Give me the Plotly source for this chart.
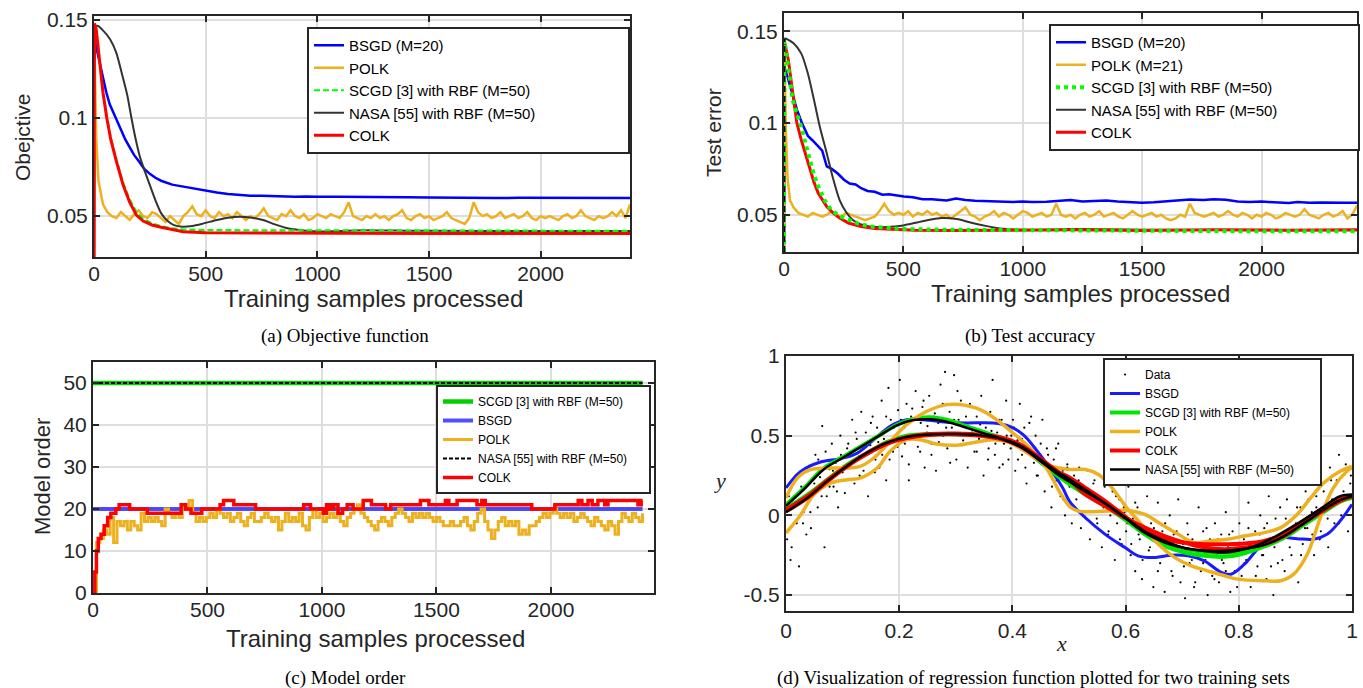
import plotly.graph_objects as go

W, H = 1363, 688

# ---------------- (a) Objective ----------------
a_bsgd_x = [0, 3, 10, 25, 40, 55, 70, 85, 100, 120,
            140, 160, 180, 200, 225, 250, 275, 300, 325, 350,
            375, 400, 425, 450, 475, 500, 550, 600, 650, 700,
            750, 800, 850, 900, 950, 1000, 1100, 1200, 1300, 1400,
            1500, 1600, 1700, 1800, 1900, 2000, 2100, 2200, 2300, 2400]
a_bsgd_y = [0.029, 0.140, 0.136, 0.128, 0.120, 0.113, 0.107, 0.103, 0.099, 0.094,
            0.089, 0.085, 0.081, 0.078, 0.074, 0.0715, 0.0695, 0.068, 0.067, 0.066,
            0.0655, 0.065, 0.0642, 0.0638, 0.0632, 0.0628, 0.062, 0.0612, 0.0608, 0.0603,
            0.0603, 0.0601, 0.0600, 0.0599, 0.0600, 0.0598, 0.0599, 0.0597, 0.0598, 0.0596,
            0.0595, 0.0593, 0.0594, 0.0592, 0.0593, 0.0593, 0.0594, 0.0592, 0.0593, 0.0592]

a_polk_head_x = [0, 3, 10]
a_polk_head_y = [0.029, 0.13, 0.09]
a_polk_tail_y = [0.068, 0.056, 0.052, 0.050, 0.049, 0.052, 0.050, 0.048, 0.051, 0.053,
                 0.050, 0.049, 0.052, 0.051, 0.049, 0.047, 0.050, 0.048, 0.046, 0.050,
                 0.052, 0.055, 0.051, 0.050, 0.053, 0.050, 0.049, 0.052, 0.050, 0.051,
                 0.049, 0.052, 0.050, 0.048, 0.050, 0.049, 0.051, 0.054, 0.050, 0.049,
                 0.048, 0.051, 0.050, 0.053, 0.050, 0.049, 0.051, 0.048, 0.049, 0.051,
                 0.050, 0.049, 0.051, 0.050, 0.049, 0.052, 0.057, 0.050, 0.049, 0.048,
                 0.050, 0.049, 0.051, 0.049, 0.050, 0.048, 0.050, 0.051, 0.053, 0.049,
                 0.048, 0.050, 0.051, 0.049, 0.050, 0.048, 0.049, 0.050, 0.052, 0.049,
                 0.048, 0.047, 0.046, 0.049, 0.057, 0.052, 0.050, 0.051, 0.049, 0.050,
                 0.052, 0.049, 0.050, 0.051, 0.049, 0.050, 0.052, 0.049, 0.048, 0.050,
                 0.049, 0.050, 0.049, 0.048, 0.050, 0.051, 0.049, 0.050, 0.053, 0.050,
                 0.049, 0.048, 0.050, 0.049, 0.050, 0.052, 0.050, 0.053, 0.049, 0.056]

a_fast_x = [0, 2, 10, 25, 40, 57, 75, 100, 130, 160,
            190, 220, 260, 300, 350, 400, 500, 700, 1000, 1500,
            2000, 2400]
a_scgd_y = [0.029, 0.148, 0.145, 0.129, 0.114, 0.101, 0.090, 0.079, 0.067, 0.0585,
            0.052, 0.0487, 0.0463, 0.0449, 0.0438, 0.0432, 0.0429, 0.0428, 0.0427, 0.0426,
            0.0425, 0.0425]
a_colk_y = [0.029, 0.148, 0.145, 0.128, 0.113, 0.100, 0.089, 0.078, 0.066, 0.057,
            0.0505, 0.0475, 0.0455, 0.0443, 0.0430, 0.0420, 0.0415, 0.0414, 0.0413, 0.0412,
            0.0412, 0.0412]

a_nasa_x = [0, 15, 40, 72, 100, 129, 150, 167, 185, 206,
            230, 253, 277, 301, 330, 358, 396, 440, 491, 550,
            600, 653, 700, 757, 810, 871, 948, 1024, 1100, 1200,
            1300, 1400, 1500, 2000, 2400]
a_nasa_y = [0.146, 0.1468, 0.1445, 0.140, 0.133, 0.1206, 0.111, 0.1003, 0.090, 0.080,
            0.072, 0.0649, 0.0575, 0.0514, 0.0475, 0.0454, 0.0446, 0.0450, 0.0463, 0.0480,
            0.0492, 0.0497, 0.0493, 0.0480, 0.0458, 0.0437, 0.0426, 0.0422, 0.0424, 0.0428,
            0.0427, 0.0426, 0.0425, 0.0424, 0.0424]

# ---------------- (b) Test error ----------------
b_bsgd_x = [0, 3, 15, 30, 54, 75, 100, 120, 143, 160,
            179, 200, 225, 251, 275, 300, 323, 350, 380, 412,
            440, 470, 502, 540, 580, 620, 681, 720, 760, 800,
            850, 900, 960, 1000, 1039, 1100, 1150, 1200, 1250, 1300,
            1350, 1397, 1450, 1500, 1550, 1600, 1650, 1700, 1756, 1800,
            1850, 1900, 1950, 2000, 2050, 2115, 2150, 2200, 2250, 2300,
            2350, 2400]
b_bsgd_y = [0.0297, 0.130, 0.125, 0.118, 0.1073, 0.100, 0.093, 0.0905, 0.0873, 0.085,
            0.0764, 0.075, 0.0725, 0.0691, 0.067, 0.0665, 0.0645, 0.063, 0.0625, 0.0609,
            0.0612, 0.0605, 0.0600, 0.0595, 0.0585, 0.0585, 0.0578, 0.0588, 0.0580, 0.0577,
            0.0575, 0.0572, 0.0570, 0.0573, 0.0569, 0.0571, 0.0574, 0.0580, 0.0572, 0.0575,
            0.0578, 0.0573, 0.0568, 0.0566, 0.0568, 0.0572, 0.0575, 0.0583, 0.0580, 0.0585,
            0.0582, 0.0573, 0.0570, 0.0572, 0.0568, 0.0564, 0.0570, 0.0565, 0.0567, 0.0568,
            0.0566, 0.0565]

b_polk_head_x = [0, 2, 8, 15, 25]
b_polk_head_y = [0.0297, 0.140, 0.095, 0.070, 0.058]
b_polk_tail_y = [0.054, 0.051, 0.050, 0.049, 0.051, 0.050, 0.049, 0.050, 0.052, 0.050,
                 0.049, 0.051, 0.050, 0.049, 0.048, 0.047, 0.048, 0.049, 0.052, 0.056,
                 0.052, 0.050, 0.051, 0.050, 0.052, 0.049, 0.051, 0.050, 0.052, 0.050,
                 0.051, 0.049, 0.050, 0.048, 0.050, 0.052, 0.054, 0.050, 0.049, 0.047,
                 0.049, 0.050, 0.052, 0.049, 0.051, 0.050, 0.048, 0.050, 0.052, 0.051,
                 0.049, 0.050, 0.051, 0.049, 0.050, 0.056, 0.050, 0.049, 0.050, 0.048,
                 0.050, 0.051, 0.049, 0.050, 0.052, 0.049, 0.050, 0.051, 0.049, 0.048,
                 0.050, 0.052, 0.050, 0.049, 0.050, 0.051, 0.049, 0.050, 0.048, 0.047,
                 0.048, 0.050, 0.049, 0.056, 0.051, 0.050, 0.049, 0.050, 0.051, 0.049,
                 0.050, 0.052, 0.050, 0.049, 0.051, 0.050, 0.048, 0.050, 0.049, 0.051,
                 0.050, 0.048, 0.049, 0.051, 0.050, 0.049, 0.050, 0.053, 0.050, 0.049,
                 0.048, 0.050, 0.051, 0.049, 0.050, 0.052, 0.048, 0.050, 0.055]

b_scgd_x = [0, 1, 10, 20, 36, 54, 72, 90, 108, 125,
            143, 170, 197, 230, 269, 310, 358, 420, 500, 700,
            1000, 1500, 2000, 2400]
b_scgd_y = [0.0297, 0.145, 0.138, 0.128, 0.1127, 0.105, 0.098, 0.089, 0.080, 0.072,
            0.0655, 0.058, 0.0527, 0.0495, 0.0473, 0.0452, 0.0436, 0.0428, 0.0422, 0.0418,
            0.0415, 0.0412, 0.0410, 0.0410]

b_colk_x = [1, 8, 18, 35, 54, 72, 90, 107, 125,
            143, 160, 179, 205, 233, 270, 323, 380, 450, 550,
            700, 1000, 1200, 1500, 1800, 2100, 2400]
b_colk_y = [0.145, 0.140, 0.1345, 0.118, 0.100, 0.091, 0.083, 0.0764, 0.068,
            0.0618, 0.058, 0.0545, 0.051, 0.0482, 0.0455, 0.0436, 0.0425, 0.042, 0.0416,
            0.0414, 0.0415, 0.0418, 0.0414, 0.0418, 0.0416, 0.0418]

b_nasa_x = [0, 1, 9, 40, 72, 100, 125, 150, 179, 205,
            233, 260, 287, 320, 358, 430, 500, 580, 663, 730,
            789, 850, 896, 950, 1004, 1100, 1200, 1300, 1500, 2000,
            2400]
b_nasa_y = [0.0297, 0.146, 0.146, 0.1435, 0.138, 0.127, 0.113, 0.098, 0.0836, 0.070,
            0.058, 0.0515, 0.0473, 0.0448, 0.0436, 0.0433, 0.0442, 0.0465, 0.0482, 0.0475,
            0.0455, 0.0438, 0.0427, 0.0421, 0.0418, 0.0418, 0.0423, 0.0421, 0.0418, 0.0416,
            0.0416]

# ---------------- (c) Model order ----------------
c_const_x = [0, 2400]
c_scgd_order = [50, 50]
c_nasa_order = [50, 50]
c_bsgd_order = [20, 20]
c_polk_step = 15
c_polk_order = [0, 12, 13, 15, 14, 18, 12, 17, 16, 17,
                15, 17, 16, 15, 19, 17, 18, 17, 18, 17,
                16, 20, 19, 18, 19, 18, 21, 20, 22, 19,
                17, 18, 17, 18, 19, 18, 20, 19, 18, 19,
                17, 18, 19, 17, 16, 18, 19, 17, 17, 18,
                19, 18, 17, 18, 15, 17, 19, 17, 18, 17,
                19, 16, 15, 18, 20, 18, 19, 17, 18, 19,
                18, 19, 17, 16, 18, 19, 20, 21, 19, 18,
                17, 16, 15, 17, 18, 17, 16, 18, 19, 20,
                19, 18, 17, 19, 18, 19, 18, 19, 18, 17,
                18, 17, 16, 16, 17, 16, 16, 17, 18, 16,
                15, 17, 19, 20, 17, 15, 13, 15, 17, 18,
                16, 17, 16, 17, 14, 15, 14, 16, 16, 17,
                18, 19, 18, 19, 20, 19, 18, 19, 18, 19,
                17, 18, 19, 18, 17, 16, 18, 17, 16, 15,
                17, 16, 14, 17, 19, 18, 17, 19, 18, 17,
                19]
c_colk_x = [0, 8, 15, 23, 35, 49, 64, 78, 100, 114,
            160, 237, 385, 405, 428, 475, 555, 570, 615, 710,
            920, 950, 1006, 1020, 1035, 1050, 1070, 1090, 1110, 1136,
            1180, 1216, 1278, 1300, 1430, 1467, 1539, 1554, 1590, 1677,
            1698, 1713, 1916, 2017, 2119, 2135, 2162, 2180, 2205, 2235,
            2249, 2380, 2394, 2400]
c_colk_order = [0, 5, 10, 13, 14, 16, 18, 19, 20, 21,
                20, 19, 21, 20, 19, 20, 21, 22, 21, 20,
                21, 20, 19, 21, 20, 21, 19, 20, 21, 20,
                22, 21, 20, 21, 22, 21, 22, 21, 22, 21,
                22, 21, 20, 21, 22, 21, 22, 21, 22, 21,
                22, 21, 22, 22]

# ---------------- (d) Regression ----------------
d_data_x1 = [0.002, 0.005, 0.008, 0.012, 0.015, 0.019, 0.023, 0.027, 0.031, 0.036,
             0.041, 0.044, 0.048, 0.052, 0.056, 0.060, 0.064, 0.068, 0.072, 0.077,
             0.081, 0.084, 0.088, 0.092, 0.096, 0.100, 0.104, 0.108, 0.112, 0.117,
             0.121, 0.125, 0.129, 0.133, 0.137, 0.141, 0.145, 0.149, 0.153, 0.158,
             0.161, 0.165, 0.169, 0.173, 0.177, 0.181, 0.185, 0.189, 0.193, 0.198,
             0.201, 0.205, 0.209, 0.213, 0.217, 0.221, 0.225, 0.229, 0.233, 0.238,
             0.241, 0.245, 0.249, 0.253, 0.257, 0.261, 0.265, 0.269, 0.273, 0.278,
             0.281, 0.285, 0.289, 0.293, 0.297, 0.301, 0.305, 0.309, 0.313, 0.318,
             0.321, 0.325, 0.329, 0.333, 0.337, 0.341, 0.345, 0.349, 0.353, 0.358,
             0.361, 0.365, 0.369, 0.373, 0.377, 0.381, 0.385, 0.389, 0.393, 0.398,
             0.401, 0.405, 0.409, 0.413, 0.417, 0.421, 0.425, 0.429, 0.433, 0.438,
             0.441, 0.445, 0.449, 0.453, 0.457, 0.461, 0.465, 0.469, 0.473, 0.478,
             0.481, 0.485, 0.489, 0.493, 0.497, 0.501, 0.505, 0.509, 0.513, 0.518,
             0.521, 0.525, 0.529, 0.533, 0.537, 0.541, 0.545, 0.549, 0.553, 0.558,
             0.561, 0.565, 0.569, 0.573, 0.577, 0.581, 0.585, 0.589, 0.593, 0.598,
             0.601, 0.605, 0.609, 0.613, 0.617, 0.621, 0.625, 0.629, 0.633, 0.638,
             0.641, 0.645, 0.649, 0.653, 0.657, 0.661, 0.665, 0.669, 0.673, 0.678,
             0.681, 0.685, 0.689, 0.693, 0.697, 0.701, 0.705, 0.709, 0.713, 0.718,
             0.721, 0.725, 0.729, 0.733, 0.737, 0.741, 0.745, 0.749, 0.753, 0.758,
             0.761, 0.765, 0.769, 0.773, 0.777, 0.781, 0.785, 0.789, 0.793, 0.798,
             0.801, 0.805, 0.809, 0.813, 0.817, 0.821, 0.825, 0.829, 0.833, 0.838,
             0.841, 0.845, 0.849, 0.853, 0.857, 0.861, 0.865, 0.869, 0.873, 0.878,
             0.881, 0.885, 0.889, 0.893, 0.897, 0.901, 0.905, 0.909, 0.913, 0.918,
             0.921, 0.925, 0.929, 0.933, 0.937, 0.941, 0.945, 0.949, 0.953, 0.958,
             0.961, 0.965, 0.969, 0.973, 0.977, 0.981, 0.985, 0.989, 0.993, 0.998]
d_data_y1 = [-0.15, 0.12, -0.28, 0.05, 0.22, -0.05, -0.32, 0.18, 0.02, -0.12,
             0.31, -0.08, 0.15, 0.38, 0.05, 0.24, 0.56, -0.20, 0.12, 0.29,
             0.45, 0.18, 0.33, 0.05, 0.50, 0.27, 0.14, 0.42, 0.31, 0.60,
             0.20, 0.48, 0.37, 0.65, 0.28, 0.52, 0.12, 0.44, 0.62, 0.35,
             0.55, 0.30, 0.72, 0.48, 0.22, 0.80, 0.60, 0.40, 0.50, 0.66,
             0.85, 0.37, 0.55, 0.70, 0.22, 0.62, 0.48, 0.78, 0.43, 0.58,
             0.68, 0.30, 0.52, 0.75, 0.45, 0.62, 0.28, 0.58, 0.82, 0.50,
             0.90, 0.42, 0.65, 0.55, 0.88, 0.35, 0.60, 0.72, 0.47, 0.62,
             0.30, 0.70, 0.52, 0.40, 0.62, 0.48, 0.75, 0.25, 0.55, 0.42,
             0.65, 0.85, 0.38, 0.52, 0.30, 0.60, 0.45, 0.72, 0.35, 0.50,
             0.60, 0.28, 0.47, 0.70, 0.38, 0.55, 0.20, 0.42, 0.62, 0.33,
             0.50, 0.25, 0.38, 0.60, 0.15, 0.42, 0.30, 0.05, 0.35, 0.22,
             0.45, 0.12, 0.28, 0.00, 0.32, 0.18, -0.05, 0.25, 0.10, 0.30,
             -0.08, 0.15, 0.02, 0.28, -0.15, 0.10, 0.22, -0.02, 0.12, -0.20,
             0.05, 0.25, -0.12, 0.00, 0.15, -0.28, -0.05, 0.10, -0.18, 0.02,
             -0.10, 0.18, -0.25, -0.02, -0.35, 0.05, -0.15, -0.40, -0.08, 0.12,
             -0.22, -0.05, -0.45, -0.15, 0.08, -0.30, -0.10, -0.48, -0.20, 0.00,
             -0.35, -0.12, -0.25, 0.10, -0.42, -0.18, -0.52, -0.05, -0.30, -0.15,
             -0.45, -0.22, 0.05, -0.35, -0.10, -0.28, -0.50, -0.15, -0.38, -0.05,
             -0.25, -0.42, -0.12, -0.30, 0.02, -0.20, -0.48, -0.10, -0.35, -0.22,
             -0.05, -0.38, -0.15, -0.28, 0.08, -0.45, -0.20, -0.10, -0.32, 0.00,
             -0.25, -0.08, -0.40, 0.12, -0.18, -0.50, -0.02, -0.30, 0.05, -0.15,
             -0.35, 0.10, -0.10, -0.25, 0.20, -0.05, -0.42, 0.05, -0.18, 0.15,
             -0.08, 0.28, 0.02, -0.25, 0.12, 0.35, -0.10, 0.20, 0.05, -0.20,
             0.30, 0.10, -0.05, 0.22, 0.38, 0.00, 0.15, 0.32, -0.10, 0.25]
d_data_x2 = [0.003, 0.010, 0.017, 0.023, 0.030, 0.037, 0.043, 0.050, 0.057, 0.063,
             0.070, 0.077, 0.083, 0.090, 0.097, 0.103, 0.110, 0.117, 0.123, 0.130,
             0.137, 0.143, 0.150, 0.157, 0.163, 0.170, 0.177, 0.183, 0.190, 0.197,
             0.203, 0.210, 0.217, 0.223, 0.230, 0.237, 0.243, 0.250, 0.257, 0.263,
             0.270, 0.277, 0.283, 0.290, 0.297, 0.303, 0.310, 0.317, 0.323, 0.330,
             0.337, 0.343, 0.350, 0.357, 0.363, 0.370, 0.377, 0.383, 0.390, 0.397,
             0.403, 0.410, 0.417, 0.423, 0.430, 0.437, 0.443, 0.450, 0.457, 0.463,
             0.470, 0.477, 0.483, 0.490, 0.497, 0.503, 0.510, 0.517, 0.523, 0.530,
             0.537, 0.543, 0.550, 0.557, 0.563, 0.570, 0.577, 0.583, 0.590, 0.597,
             0.603, 0.610, 0.617, 0.623, 0.630, 0.637, 0.643, 0.650, 0.657, 0.663,
             0.670, 0.677, 0.683, 0.690, 0.697, 0.703, 0.710, 0.717, 0.723, 0.730,
             0.737, 0.743, 0.750, 0.757, 0.763, 0.770, 0.777, 0.783, 0.790, 0.797,
             0.803, 0.810, 0.817, 0.823, 0.830, 0.837, 0.843, 0.850, 0.857, 0.863,
             0.870, 0.877, 0.883, 0.890, 0.897, 0.903, 0.910, 0.917, 0.923, 0.930,
             0.937, 0.943, 0.950, 0.957, 0.963, 0.970, 0.977, 0.983, 0.990, 0.997]
d_data_y2 = [0.08, -0.20, 0.25, 0.10, -0.05, 0.30, 0.02, 0.20, 0.35, 0.12,
             0.40, 0.18, 0.28, 0.15, 0.38, 0.22, 0.45, 0.30, 0.52, 0.25,
             0.42, 0.33, 0.58, 0.27, 0.46, 0.38, 0.62, 0.35, 0.55, 0.43,
             0.60, 0.45, 0.32, 0.67, 0.50, 0.40, 0.72, 0.56, 0.38, 0.64,
             0.46, 0.70, 0.55, 0.33, 0.60, 0.78, 0.44, 0.58, 0.50, 0.68,
             0.40, 0.57, 0.65, 0.35, 0.53, 0.45, 0.60, 0.32, 0.50, 0.42,
             0.55, 0.35, 0.48, 0.30, 0.58, 0.40, 0.25, 0.45, 0.32, 0.38,
             0.18, 0.42, 0.27, 0.10, 0.30, 0.20, 0.05, 0.22, 0.15, -0.02,
             0.12, 0.20, -0.05, 0.08, 0.18, -0.10, 0.03, 0.12, -0.15, 0.05,
             -0.05, -0.18, 0.08, -0.12, -0.28, 0.00, -0.20, -0.08, -0.35, -0.15,
             -0.05, -0.25, -0.38, -0.10, -0.20, -0.32, -0.12, -0.28, -0.42, -0.18,
             -0.30, -0.08, -0.22, -0.40, -0.15, -0.28, -0.35, -0.12, -0.25, -0.45,
             -0.18, -0.30, -0.08, -0.22, -0.38, -0.12, -0.25, -0.05, -0.32, -0.20,
             -0.15, -0.28, -0.02, -0.20, -0.10, 0.05, -0.25, -0.08, 0.10, -0.12,
             0.05, -0.15, 0.15, -0.02, 0.22, 0.08, -0.05, 0.28, 0.12, 0.20]

d_bsgd_x = [0, 0.026, 0.061, 0.096, 0.126, 0.155, 0.184, 0.213, 0.243, 0.284,
            0.319, 0.366, 0.395, 0.419, 0.442, 0.466, 0.489, 0.501, 0.529, 0.564,
            0.599, 0.622, 0.646, 0.681, 0.71, 0.739, 0.769, 0.786, 0.81, 0.839,
            0.868, 0.903, 0.932, 0.956, 0.979, 1.0]
d_bsgd_y = [0.172, 0.276, 0.335, 0.356, 0.391, 0.475, 0.559, 0.6, 0.6, 0.584,
            0.58, 0.58, 0.559, 0.506, 0.412, 0.297, 0.172, 0.088, -0.015, -0.119,
            -0.202, -0.254, -0.265, -0.25, -0.254, -0.285, -0.358, -0.369, -0.306, -0.192,
            -0.14, -0.146, -0.15, -0.119, -0.035, 0.069]

d_polk1_x = [0, 0.02, 0.043, 0.073, 0.108, 0.131, 0.155, 0.184, 0.213, 0.249,
             0.284, 0.307, 0.343, 0.372, 0.401, 0.431, 0.46, 0.483, 0.501, 0.517,
             0.54, 0.57, 0.602, 0.634, 0.663, 0.693, 0.722, 0.751, 0.78, 0.81,
             0.845, 0.874, 0.903, 0.927, 0.95, 0.979, 1.0]
d_polk1_y = [0.109, 0.234, 0.287, 0.297, 0.297, 0.307, 0.36, 0.464, 0.569, 0.653,
             0.695, 0.695, 0.663, 0.6, 0.517, 0.423, 0.297, 0.15, 0.056, 0.027,
             0.023, 0.027, 0.031, 0.006, -0.056, -0.119, -0.171, -0.16, -0.15, -0.129,
             -0.108, -0.077, 0.006, 0.11, 0.204, 0.277, 0.308]
d_polk2_x = [0, 0.026, 0.049, 0.079, 0.108, 0.131, 0.161, 0.184, 0.213, 0.237,
             0.266, 0.301, 0.337, 0.366, 0.389, 0.413, 0.436, 0.46, 0.483, 0.501,
             0.529, 0.552, 0.576, 0.602, 0.628, 0.658, 0.687, 0.716, 0.745, 0.775,
             0.798, 0.845, 0.874, 0.897, 0.921, 0.944, 0.967, 0.991, 1.0]
d_polk2_y = [-0.111, 0.004, 0.13, 0.203, 0.224, 0.234, 0.297, 0.402, 0.475, 0.475,
             0.448, 0.44, 0.46, 0.475, 0.464, 0.423, 0.37, 0.318, 0.297, 0.2875,
             0.2875, 0.256, 0.173, 0.048, -0.056, -0.181, -0.265, -0.317, -0.348, -0.379,
             -0.4, -0.41, -0.41, -0.369, -0.244, -0.015, 0.173, 0.277, 0.298]

d_scgd1_x = [0, 0.032, 0.067, 0.102, 0.137, 0.167, 0.196, 0.225, 0.255, 0.284,
             0.319, 0.354, 0.389, 0.419, 0.448, 0.477, 0.5, 0.529, 0.564, 0.602,
             0.634, 0.669, 0.704, 0.739, 0.775, 0.804, 0.839, 0.874, 0.909, 0.944,
             0.979, 1.0]
d_scgd1_y = [0.067, 0.172, 0.297, 0.37, 0.444, 0.506, 0.569, 0.605, 0.615, 0.6,
             0.559, 0.517, 0.475, 0.423, 0.339, 0.255, 0.198, 0.131, 0.058, -0.035,
             -0.119, -0.192, -0.233, -0.254, -0.26, -0.244, -0.202, -0.14, -0.056, 0.027,
             0.09, 0.11]
d_nasa1_x = [0, 0.032, 0.067, 0.102, 0.137, 0.167, 0.196, 0.225, 0.255, 0.284,
             0.319, 0.354, 0.389, 0.419, 0.448, 0.477, 0.494, 0.529, 0.564, 0.602,
             0.634, 0.669, 0.704, 0.739, 0.775, 0.81, 0.83, 0.866, 0.9, 0.944,
             0.979, 1.0]
d_nasa1_y = [0.06, 0.165, 0.29, 0.365, 0.44, 0.505, 0.565, 0.598, 0.603, 0.588,
             0.55, 0.51, 0.47, 0.42, 0.345, 0.265, 0.225, 0.15, 0.075, -0.02,
             -0.1, -0.16, -0.205, -0.223, -0.233, -0.2125, -0.19, -0.13, -0.06, 0.04,
             0.12, 0.131]

d_fast_x = [0, 0.038, 0.073, 0.108, 0.143, 0.178, 0.213, 0.255, 0.301, 0.343,
            0.378, 0.413, 0.448, 0.48, 0.5, 0.529, 0.564, 0.602, 0.634, 0.669,
            0.704, 0.739, 0.775, 0.81, 0.845, 0.88, 0.915, 0.95, 0.979, 1.0]
d_scgd2_y = [0.042, 0.13, 0.224, 0.318, 0.391, 0.46, 0.5, 0.51, 0.51, 0.506,
             0.485, 0.433, 0.339, 0.255, 0.21, 0.14, 0.065, -0.025, -0.105, -0.17,
             -0.21, -0.23, -0.235, -0.225, -0.195, -0.14, -0.06, 0.02, 0.085, 0.115]
d_colk1_y = [0.025, 0.109, 0.213, 0.308, 0.391, 0.454, 0.49, 0.51, 0.513, 0.506,
             0.49, 0.446, 0.36, 0.276, 0.24, 0.173, 0.09, -0.015, -0.098, -0.15,
             -0.171, -0.181, -0.181, -0.177, -0.16, -0.119, -0.035, 0.048, 0.1, 0.121]
d_colk2_y = [0.035, 0.12, 0.22, 0.31, 0.385, 0.448, 0.485, 0.505, 0.508, 0.5,
             0.48, 0.435, 0.35, 0.27, 0.225, 0.131, 0.058, -0.02, -0.077, -0.13,
             -0.171, -0.202, -0.2125, -0.202, -0.181, -0.129, -0.046, 0.03, 0.09, 0.121]
d_nasa2_y = [0.02, 0.11, 0.215, 0.31, 0.392, 0.455, 0.492, 0.508, 0.51, 0.502,
             0.483, 0.44, 0.355, 0.272, 0.23, 0.16, 0.075, -0.025, -0.11, -0.17,
             -0.205, -0.22, -0.222, -0.21, -0.185, -0.13, -0.05, 0.035, 0.095, 0.12]

# ---------------- labels ----------------
lbl_bsgd_m = "BSGD (M=20)"
lbl_polk = "POLK"
lbl_polk_m = "POLK (M=21)"
lbl_scgd = "SCGD [3] with RBF (M=50)"
lbl_nasa = "NASA [55] with RBF (M=50)"
lbl_colk = "COLK"
lbl_bsgd = "BSGD"
lbl_data = "Data"

BLUE = "#0000FF"
ORANGE = "#EDB120"
GREEN = "#00FF00"
RED = "#FF0000"
NASA_C = "#333333"
AX = "#262626"
SANS = "Liberation Sans, Arial, sans-serif"
SERIF = "Liberation Serif, Times New Roman, serif"
NB = "\u00a0"  # invisible padding so legend boxes span the reference width

a_polk_x = a_polk_head_x + [20 * (i + 1) for i in range(len(a_polk_tail_y))]
a_polk_y = a_polk_head_y + a_polk_tail_y
b_polk_x = b_polk_head_x + [40 + 20 * i for i in range(len(b_polk_tail_y))]
b_polk_y = b_polk_head_y + b_polk_tail_y
c_polk_x = [c_polk_step * i for i in range(len(c_polk_order))]
d_data_x = d_data_x1 + d_data_x2
d_data_y = d_data_y1 + d_data_y2

fig = go.Figure()


def L(x, y, name, color, width, xa, ya, leg, rank, dash=None, show=True,
      shape="linear", group=None, smoothing=None):
    line = dict(color=color, width=width)
    if dash:
        line["dash"] = dash
    if shape != "linear":
        line["shape"] = shape
    if smoothing is not None:
        line["smoothing"] = smoothing
    fig.add_trace(go.Scatter(x=x, y=y, mode="lines", name=name, line=line,
                             xaxis=xa, yaxis=ya, legend=leg, legendrank=rank,
                             showlegend=show, legendgroup=group or (leg + name),
                             hoverinfo="skip"))


# (a)
L(a_bsgd_x, a_bsgd_y, lbl_bsgd_m, BLUE, 2.5, "x", "y", "legend", 1)
L(a_polk_x, a_polk_y, lbl_polk, ORANGE, 2.5, "x", "y", "legend", 2)
L(a_nasa_x, a_nasa_y, lbl_nasa + NB * 21, NASA_C, 2, "x", "y", "legend", 4,
  shape="spline", smoothing=0.6)
L(a_fast_x, a_scgd_y, lbl_scgd, GREEN, 2.2, "x", "y", "legend", 3, dash="6px,3px")
L(a_fast_x, a_colk_y, lbl_colk, RED, 3, "x", "y", "legend", 5)

# (b)
L(b_bsgd_x, b_bsgd_y, lbl_bsgd_m, BLUE, 2.5, "x2", "y2", "legend2", 1)
L(b_polk_x, b_polk_y, lbl_polk_m, ORANGE, 2.5, "x2", "y2", "legend2", 2)
L(b_nasa_x[1:], b_nasa_y[1:], lbl_nasa + NB * 18, NASA_C, 2, "x2", "y2", "legend2", 4,
  shape="spline", smoothing=0.6, group="bN")
L(b_colk_x, b_colk_y, lbl_colk, RED, 3, "x2", "y2", "legend2", 5)
L(b_scgd_x, b_scgd_y, lbl_scgd, GREEN, 4, "x2", "y2", "legend2", 3, dash="dot")
L(b_nasa_x[:2], b_nasa_y[:2], lbl_nasa, "#000000", 2.5, "x2", "y2", "legend2", 4,
  dash="6px,4px", show=False, group="bN")

# (c)
L(c_const_x, c_scgd_order, lbl_scgd, "#00D000", 4.5, "x3", "y3", "legend3", 1)
L(c_const_x, c_nasa_order, lbl_nasa + NB * 5, "#000000", 2, "x3", "y3", "legend3", 4,
  dash="4px,2px")
L(c_const_x, c_bsgd_order, lbl_bsgd, "rgba(20,20,255,0.75)", 4, "x3", "y3", "legend3", 2)
L(c_polk_x, c_polk_order, lbl_polk, ORANGE, 3, "x3", "y3", "legend3", 3, shape="hv")
L(c_colk_x, c_colk_order, lbl_colk, RED, 3.5, "x3", "y3", "legend3", 5, shape="hv")

# (d)
fig.add_trace(go.Scatter(x=d_data_x, y=d_data_y, mode="markers", name=lbl_data,
                         marker=dict(color="#000000", size=2.2),
                         xaxis="x4", yaxis="y4", legend="legend4", legendrank=1,
                         hoverinfo="skip"))
L(d_bsgd_x, d_bsgd_y, lbl_bsgd, "#1a1aff", 3, "x4", "y4", "legend4", 2, shape="spline", group="dB")
L(d_scgd1_x, d_scgd1_y, lbl_scgd, "#00E600", 4, "x4", "y4", "legend4", 3, shape="spline", group="dS")
L(d_fast_x, d_scgd2_y, lbl_scgd, "#00E600", 4, "x4", "y4", "legend4", 3, shape="spline", group="dS", show=False)
L(d_polk1_x, d_polk1_y, lbl_polk, ORANGE, 3.5, "x4", "y4", "legend4", 4, shape="spline", group="dP")
L(d_polk2_x, d_polk2_y, lbl_polk, ORANGE, 3.5, "x4", "y4", "legend4", 4, shape="spline", group="dP", show=False)
L(d_fast_x, d_colk1_y, lbl_colk, RED, 4, "x4", "y4", "legend4", 5, shape="spline", group="dC")
L(d_fast_x, d_colk2_y, lbl_colk, RED, 4, "x4", "y4", "legend4", 5, shape="spline", group="dC", show=False)
L(d_nasa1_x, d_nasa1_y, lbl_nasa + NB * 6, "#000000", 2.5, "x4", "y4", "legend4", 6,
  shape="spline", group="dN")
L(d_fast_x, d_nasa2_y, lbl_nasa, "#000000", 2.5, "x4", "y4", "legend4", 6, shape="spline", group="dN", show=False)


def px_x(a, b):
    return [a / W, b / W]


def px_y(top, bottom):
    return [1 - bottom / H, 1 - top / H]


def axis(domain, rng, anchor, tickvals, ticktext, fs=21, standoff=0):
    return dict(domain=domain, range=rng, anchor=anchor, showline=True,
                linecolor=AX, linewidth=2, mirror="ticks", ticks="inside",
                ticklen=6, tickwidth=1.5, tickcolor=AX, showgrid=True,
                gridcolor="#dedede", gridwidth=2, zeroline=False,
                tickvals=tickvals, ticktext=ticktext, ticklabelstandoff=standoff,
                tickfont=dict(family=SANS, size=fs, color=AX))


xt = [0, 500, 1000, 1500, 2000]
xtt = ["0", "500", "1000", "1500", "2000"]
yt_ab = [0.05, 0.1, 0.15]
ytt_ab = ["0.05", "0.1", "0.15"]


def legend(xp, yp, fs):
    return dict(x=xp / W, y=1 - yp / H, xanchor="left", yanchor="top",
                bgcolor="white", bordercolor=AX, borderwidth=2,
                font=dict(family=SANS, size=fs, color="#000000"),
                tracegroupgap=0, itemwidth=30)


anns = []


def ann(text, xp, yp, size, family=SANS, angle=0, color=AX):
    anns.append(dict(text=text, x=xp / W, y=1 - yp / H, xref="paper", yref="paper",
                     showarrow=False, textangle=angle, xanchor="center", yanchor="middle",
                     font=dict(family=family, size=size, color=color)))


ann("Training samples processed", 373, 298, 24)
ann("Obejctive", 22, 137, 21, angle=-90)
ann("Training samples processed", 1080, 293, 24)
ann("Test error", 713, 133, 21, angle=-90)
ann("Training samples processed", 375, 638, 24)
ann("Model order", 42, 477, 22, angle=-90)
ann("<i>x</i>", 1061, 643, 22, family=SERIF)
ann("<i>y</i>", 720, 480, 22, family=SERIF)
ann("(a) Objective function", 345, 336, 19, family=SERIF, color="#000000")
ann("(b) Test accuracy", 1030, 336, 19, family=SERIF, color="#000000")
ann("(c) Model order", 345, 678, 19, family=SERIF, color="#000000")
ann("(d) Visualization of regression function plotted for two training sets", 1033, 678, 19,
    family=SERIF, color="#000000")

fig.update_layout(
    width=W, height=H, margin=dict(l=0, r=0, t=0, b=0, autoexpand=False),
    paper_bgcolor="white", plot_bgcolor="white",
    xaxis=axis(px_x(94, 630), [0, 2400], "y", xt, xtt, standoff=-3),
    yaxis=axis(px_y(16, 257), [0.0292, 0.1518], "x", yt_ab, ytt_ab),
    xaxis2=axis(px_x(784, 1357), [0, 2400], "y2", xt, xtt, standoff=-3),
    yaxis2=axis(px_y(13, 252), [0.0297, 0.16], "x2", yt_ab, ytt_ab),
    xaxis3=axis(px_x(93, 654), [0, 2450], "y3", xt, xtt, standoff=-3),
    yaxis3=axis(px_y(362, 593), [0, 55], "x3", [0, 10, 20, 30, 40, 50],
                ["0", "10", "20", "30", "40", "50"]),
    xaxis4=axis(px_x(786, 1352), [0, 1], "y4", [0, 0.2, 0.4, 0.6, 0.8, 1],
                ["0", "0.2", "0.4", "0.6", "0.8", "1"]),
    yaxis4=axis(px_y(356, 611), [-0.6, 1], "x4", [-0.5, 0, 0.5, 1],
                ["-0.5", "0", "0.5", "1"]),
    legend=legend(307, 27, 15),
    legend2=legend(1049, 24, 15),
    legend3=legend(436, 385, 12),
    legend4=legend(1103, 358, 12),
    annotations=anns,
    showlegend=True,
)

fig.write_html("out.html", config={"displayModeBar": False},
               post_script="document.body.style.margin='0';document.body.style.overflow='hidden';")
